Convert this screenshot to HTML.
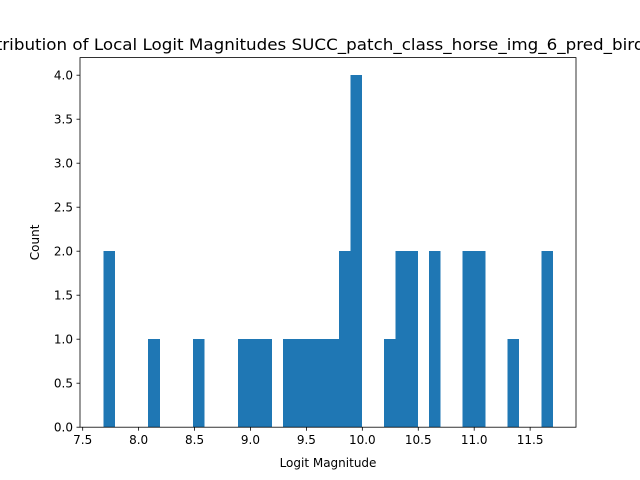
<!DOCTYPE html>
<html><head><meta charset="utf-8"><style>
html,body{margin:0;padding:0;background:#fff;}
svg{display:block;font-family:"DejaVu Sans","Liberation Sans",sans-serif;}
</style></head><body>
<svg id="chart" width="640" height="480" viewBox="0 0 640 480">
<rect width="640" height="480" fill="#fff"/>
<text x="307" y="50" font-size="15.6" text-anchor="middle" textLength="675" lengthAdjust="spacingAndGlyphs" fill="#000">Distribution of Local Logit Magnitudes SUCC_patch_class_horse_img_6_pred_bird</text>
<g id="bars" shape-rendering="crispEdges"></g>
<g id="axes"></g>
<text x="328" y="467" font-size="12" text-anchor="middle">Logit Magnitude</text>
<text transform="translate(39,242.4) rotate(-90)" font-size="12" text-anchor="middle">Count</text>
</svg>
<script>
const binStart = 7.684;
const binWidth = 0.1004;
const counts = [2,0,0,0,1,0,0,0,1,0,0,0,1,1,1,0,1,1,1,1,1,2,4,0,0,1,2,2,0,2,0,0,2,2,0,0,1,0,0,2];
const xTicks = [7.5,8.0,8.5,9.0,9.5,10.0,10.5,11.0,11.5];
const xTickLabels = ["7.5","8.0","8.5","9.0","9.5","10.0","10.5","11.0","11.5"];
const yTicks = [0,0.5,1,1.5,2,2.5,3,3.5,4];
const yTickLabels = ["0.0","0.5","1.0","1.5","2.0","2.5","3.0","3.5","4.0"];

const L=80, R=576, T=57.6, B=427.2;
const xMin=7.476, xMax=11.91, yMax=4.2;
const sx = v => L + (v - xMin) / (xMax - xMin) * (R - L);
const sy = v => B - v / yMax * (B - T);
const NS="http://www.w3.org/2000/svg";
const bars=document.getElementById('bars');
counts.forEach((c,i)=>{
  if(c<=0) return;
  const r=document.createElementNS(NS,'rect');
  const x0=sx(binStart+i*binWidth), x1=sx(binStart+(i+1)*binWidth);
  r.setAttribute('x',x0); r.setAttribute('width',x1-x0+0.4);
  r.setAttribute('y',sy(c)); r.setAttribute('height',sy(0)-sy(c));
  r.setAttribute('fill','#1f77b4');
  
  
  bars.appendChild(r);
});
const axes=document.getElementById('axes');
const frame=document.createElementNS(NS,'rect');
frame.setAttribute('x',L);frame.setAttribute('y',T);frame.setAttribute('width',R-L);frame.setAttribute('height',B-T);
frame.setAttribute('fill','none');frame.setAttribute('stroke','#000');frame.setAttribute('stroke-width','0.8');


axes.appendChild(frame);
xTicks.forEach((v,i)=>{
  const x=sx(v);
  const l=document.createElementNS(NS,'line');
  l.setAttribute('x1',x);l.setAttribute('x2',x);l.setAttribute('y1',B);l.setAttribute('y2',B+3.5);
  l.setAttribute('stroke','#000');l.setAttribute('stroke-width','0.8');
  
  
  axes.appendChild(l);
  const t=document.createElementNS(NS,'text');
  t.setAttribute('x',x);t.setAttribute('y',B+17);t.setAttribute('font-size','12');t.setAttribute('text-anchor','middle');
  t.textContent=xTickLabels[i];
  
  
  axes.appendChild(t);
});
yTicks.forEach((v,i)=>{
  const y=sy(v);
  const l=document.createElementNS(NS,'line');
  l.setAttribute('x1',L-3.5);l.setAttribute('x2',L);l.setAttribute('y1',y);l.setAttribute('y2',y);
  l.setAttribute('stroke','#000');l.setAttribute('stroke-width','0.8');
  
  
  axes.appendChild(l);
  const t=document.createElementNS(NS,'text');
  t.setAttribute('x',L-7);t.setAttribute('y',y+4.3);t.setAttribute('font-size','12');t.setAttribute('text-anchor','end');
  t.textContent=yTickLabels[i];
  
  
  axes.appendChild(t);
});
</script>
</body></html>
